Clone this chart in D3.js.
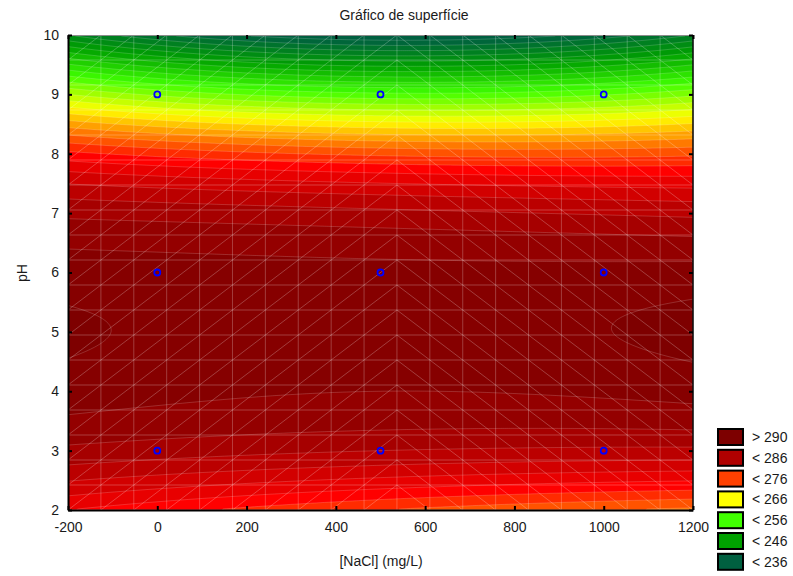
<!DOCTYPE html>
<meta charset="utf-8">
<style>
  body { margin: 0; background: #fff; }
  text { font-family: "Liberation Sans", Arial, sans-serif; fill: #1a1a1a; }
</style>
<body>
<script src="https://d3js.org/d3.v7.min.js"></script>
<script>
// design points (where the blue circles sit)
const naclLevels = [0, 500, 1000];
const phLevels = [3, 6, 9];

// fitted surface: one profile along pH per NaCl column
const surfNacl = [-200, 500, 1200];
const surfPh = [2, 3, 4, 5, 6, 7, 8, 9, 10];
const surfLeft = [280, 287.5, 291, 292.3, 291, 287.5, 278.5, 262, 242];
const surfMid = [276, 286, 290, 291.2, 290.5, 286.5, 275.5, 256.5, 234];
const surfRight = [273.5, 285.5, 290.7, 292.6, 290.7, 285.5, 275.5, 259.5, 240];

const xTicks = [-200, 0, 200, 400, 600, 800, 1000, 1200];
const yTicks = [2, 3, 4, 5, 6, 7, 8, 9, 10];
const legendLabels = ["> 290", "< 286", "< 276", "< 266", "< 256", "< 246", "< 236"];
const legendColors = ["#7d0000", "#b00000", "#ff4000", "#ffff00", "#40ff00", "#00a000", "#006040"];

const width = 793, height = 576;
const margin = {left: 68, top: 35, right: 100, bottom: 66};
const pw = width - margin.left - margin.right;   // 625
const ph = height - margin.top - margin.bottom;  // 475

const svg = d3.select("body").append("svg")
    .attr("width", width)
    .attr("height", height);

const x = d3.scaleLinear().domain([-200, 1200]).range([margin.left, margin.left + pw]);
const y = d3.scaleLinear().domain([2, 10]).range([margin.top + ph, margin.top]);

// natural cubic spline through equally spaced samples
function spline(ys) {
    const n = ys.length, m = new Array(n).fill(0);
    const a = [], b = [], c = [], r = [];
    for (let i = 1; i < n - 1; i++) {
        a.push(1); b.push(4); c.push(1);
        r.push(6 * (ys[i + 1] - 2 * ys[i] + ys[i - 1]));
    }
    // Thomas algorithm
    for (let i = 1; i < b.length; i++) {
        const w = a[i] / b[i - 1];
        b[i] -= w * c[i - 1];
        r[i] -= w * r[i - 1];
    }
    const s = new Array(b.length);
    for (let i = b.length - 1; i >= 0; i--)
        s[i] = (r[i] - (i < b.length - 1 ? c[i] * s[i + 1] : 0)) / b[i];
    for (let i = 1; i < n - 1; i++) m[i] = s[i - 1];
    return function(t) {
        let i = Math.min(n - 2, Math.max(0, Math.floor(t)));
        const u = t - i;
        return (1 - u) * ys[i] + u * ys[i + 1]
            + ((1 - u) ** 3 - (1 - u)) * m[i] / 6 + (u ** 3 - u) * m[i + 1] / 6;
    };
}
const profiles = [surfLeft, surfMid, surfRight].map(spline);

function surface(xv, pv) {
    const t = (pv - surfPh[0]) / (surfPh[1] - surfPh[0]);
    const v = profiles.map(f => f(t));
    const n = surfNacl;
    const w0 = (xv - n[1]) * (xv - n[2]) / ((n[0] - n[1]) * (n[0] - n[2]));
    const w1 = (xv - n[0]) * (xv - n[2]) / ((n[1] - n[0]) * (n[1] - n[2]));
    const w2 = (xv - n[0]) * (xv - n[1]) / ((n[2] - n[0]) * (n[2] - n[1]));
    return w0 * v[0] + w1 * v[1] + w2 * v[2];
}

const nx = 313, ny = 238;
const values = new Array(nx * ny);
for (let j = 0; j < ny; j++) {
    for (let i = 0; i < nx; i++) {
        const xv = x.invert(margin.left + (i + 0.5) / nx * pw);
        const pv = y.invert(margin.top + (j + 0.5) / ny * ph);
        values[j * nx + i] = surface(xv, pv);
    }
}

const color = d3.scaleLinear()
    .domain([236, 246, 256, 266, 276, 279, 286, 288, 290, 292, 296])
    .range(["#006040", "#00a000", "#40ff00", "#ffff00", "#ff4000", "#ff0000", "#b00000", "#9c0000", "#8c0000", "#800000", "#760000"])
    .clamp(true);

const levels = d3.range(200, 300, 2);
const contours = d3.contours().size([nx, ny]).thresholds(levels)(values);

const proj = d3.geoTransform({
    point: function(px, py) {
        this.stream.point(margin.left + px / nx * pw, margin.top + py / ny * ph);
    }
});
const path = d3.geoPath(proj);

svg.append("clipPath").attr("id", "plotclip")
  .append("rect")
    .attr("x", margin.left).attr("y", margin.top)
    .attr("width", pw).attr("height", ph);

const plot = svg.append("g").attr("clip-path", "url(#plotclip)");

plot.selectAll("path.band")
    .data(contours)
    .join("path")
    .attr("class", "band")
    .attr("d", path)
    .attr("fill", d => color(d.value + 1))
    .attr("stroke", "rgba(255,255,255,0.25)")
    .attr("stroke-width", 0.7);

// triangulated mesh
const nCells = 19;
const meshX = d3.range(nCells + 1).map(k => -200 + k * 1400 / nCells);
const meshY = d3.range(nCells + 1).map(k => 2 + k * 8 / nCells);
const mesh = plot.append("g")
    .attr("stroke", "rgba(255,255,255,0.3)")
    .attr("stroke-width", 0.8)
    .attr("fill", "none");
meshX.forEach(v => mesh.append("line")
    .attr("x1", x(v)).attr("x2", x(v)).attr("y1", margin.top).attr("y2", margin.top + ph));
meshY.forEach(v => mesh.append("line")
    .attr("y1", y(v)).attr("y2", y(v)).attr("x1", margin.left).attr("x2", margin.left + pw));
for (let c = 0; c < nCells; c++) {
    for (let r = 0; r < nCells; r++) {
        const l = x(meshX[c]), rr = x(meshX[c + 1]);
        const b = y(meshY[r]), t = y(meshY[r + 1]);
        if (c < 10) mesh.append("line").attr("x1", l).attr("y1", b).attr("x2", rr).attr("y2", t);
        else mesh.append("line").attr("x1", l).attr("y1", t).attr("x2", rr).attr("y2", b);
    }
}

// design points
const pts = [];
phLevels.forEach(p => naclLevels.forEach(n => pts.push([n, p])));
svg.append("g").selectAll("circle")
    .data(pts)
    .join("circle")
    .attr("cx", d => x(d[0]))
    .attr("cy", d => y(d[1]))
    .attr("r", 3)
    .attr("fill", "none")
    .attr("stroke", "#0000ff")
    .attr("stroke-width", 1.8);

// frame
svg.append("line").attr("x1", margin.left).attr("x2", margin.left + pw)
    .attr("y1", margin.top + 0.5).attr("y2", margin.top + 0.5)
    .attr("stroke", "#8c8c8c").attr("stroke-width", 1);
svg.append("line").attr("x1", margin.left + pw).attr("x2", margin.left + pw)
    .attr("y1", margin.top).attr("y2", margin.top + ph)
    .attr("stroke", "#000").attr("stroke-width", 1.5);

// axes with inward ticks
const fmt = d => String(d);
const xAxisB = d3.axisBottom(x).tickValues(xTicks).tickFormat(fmt).tickSizeInner(-4).tickSizeOuter(0).tickPadding(12);
const xAxisT = d3.axisTop(x).tickValues(xTicks).tickSizeInner(-4).tickSizeOuter(0).tickFormat("");
const yAxisL = d3.axisLeft(y).tickValues(yTicks).tickFormat(fmt).tickSizeInner(-4).tickSizeOuter(0).tickPadding(9);
const yAxisR = d3.axisRight(y).tickValues(yTicks).tickSizeInner(-4).tickSizeOuter(0).tickFormat("");

function styleAxis(g, w) {
    g.select(".domain").attr("stroke", "#000").attr("stroke-width", w);
    g.selectAll(".tick line").attr("stroke", "#000").attr("stroke-width", 2);
    g.selectAll(".tick text").attr("font-size", 14).attr("fill", "#1a1a1a")
        .attr("font-family", "'Liberation Sans', Arial, sans-serif");
}
svg.append("g").attr("transform", `translate(0,${margin.top})`).call(xAxisT)
    .call(g => { g.select(".domain").remove(); g.selectAll(".tick line").attr("stroke", "#000").attr("stroke-width", 2); });
svg.append("g").attr("transform", `translate(${margin.left + pw},0)`).call(yAxisR)
    .call(g => { g.select(".domain").remove(); g.selectAll(".tick line").attr("stroke", "#000").attr("stroke-width", 2); });
svg.append("g").attr("transform", `translate(0,${margin.top + ph})`).call(xAxisB).call(g => styleAxis(g, 2));
svg.append("g").attr("transform", `translate(${margin.left},0)`).call(yAxisL).call(g => styleAxis(g, 2));

// titles
svg.append("text").attr("x", 404).attr("y", 20).attr("text-anchor", "middle")
    .attr("font-size", 14).text("Gráfico de superfície");
svg.append("text").attr("x", 381).attr("y", 566).attr("text-anchor", "middle")
    .attr("font-size", 14).text("[NaCl] (mg/L)");
svg.append("text").attr("transform", "translate(27,273) rotate(-90)").attr("text-anchor", "middle")
    .attr("font-size", 14).text("pH");

// legend
const leg = svg.append("g").attr("transform", "translate(717,428)");
legendLabels.forEach((lab, i) => {
    const g = leg.append("g").attr("transform", `translate(0,${i * 20.8})`);
    g.append("rect").attr("x", 1).attr("y", 1).attr("width", 25).attr("height", 16)
        .attr("fill", legendColors[i]).attr("stroke", "#000").attr("stroke-width", 2);
    g.append("text").attr("x", 35).attr("y", 14).attr("font-size", 14).text(lab);
});
</script>
</body>
